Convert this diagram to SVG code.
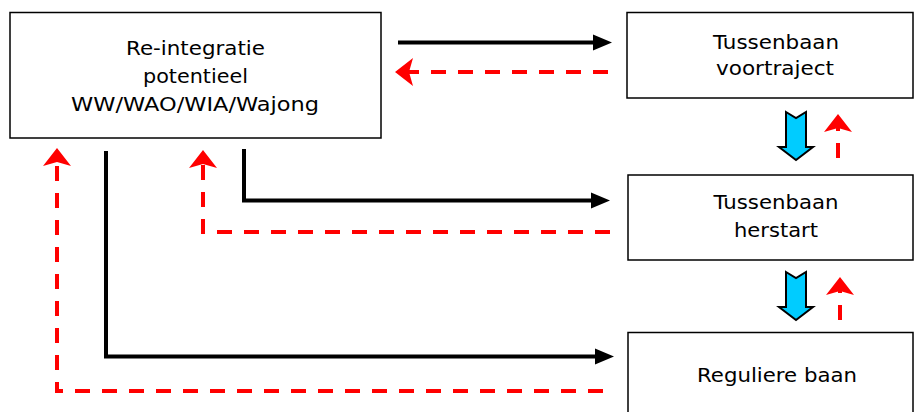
<svg xmlns="http://www.w3.org/2000/svg" width="915" height="412" viewBox="0 0 915 412">
<style>
.box{fill:#fff;stroke:#000;stroke-width:1.5}
.t{font-family:"DejaVu Sans",Verdana,sans-serif;font-size:19.5px;fill:#000;text-anchor:middle}
.blk{fill:none;stroke:#000;stroke-width:4;marker-end:url(#ab)}
.red{fill:none;stroke:#f00;stroke-width:4;stroke-dasharray:15 12;marker-end:url(#ar)}
.blue{fill:#00ccff;stroke:#000;stroke-width:2;stroke-linejoin:miter}
</style>
<defs>
<marker id="ab" markerUnits="userSpaceOnUse" markerWidth="22" markerHeight="20" viewBox="0 -10 22 20" refX="1" refY="0" orient="auto">
<path d="M0,-8 L19,0 L0,8 z" fill="#000"/>
</marker>
<marker id="ar" markerUnits="userSpaceOnUse" markerWidth="22" markerHeight="32" viewBox="0 -16 22 32" refX="4" refY="0" orient="auto">
<path d="M0,-14 L18,0 L0,14 L4,0 z" fill="#f00"/>
</marker>
</defs>
<g id="node-reintegratie">
<rect class="box" x="10" y="12.5" width="371" height="125.5"/>
<text class="t" x="195.5" y="55" textLength="139" lengthAdjust="spacingAndGlyphs">Re-integratie</text>
<text class="t" x="195.5" y="83" textLength="105" lengthAdjust="spacingAndGlyphs">potentieel</text>
<text class="t" x="195" y="111" textLength="248" lengthAdjust="spacingAndGlyphs">WW/WAO/WIA/Wajong</text>
</g>
<g id="node-voortraject">
<rect class="box" x="627" y="12.5" width="286" height="85.5"/>
<text class="t" x="776" y="49" textLength="126" lengthAdjust="spacingAndGlyphs">Tussenbaan</text>
<text class="t" x="775" y="75" textLength="118" lengthAdjust="spacingAndGlyphs">voortraject</text>
</g>
<g id="node-herstart">
<rect class="box" x="628" y="175" width="285" height="85"/>
<text class="t" x="776" y="209" textLength="125" lengthAdjust="spacingAndGlyphs">Tussenbaan</text>
<text class="t" x="776" y="237" textLength="84" lengthAdjust="spacingAndGlyphs">herstart</text>
</g>
<g id="node-regulier">
<rect class="box" x="628" y="332.5" width="285" height="90"/>
<text class="t" x="777" y="382" textLength="160" lengthAdjust="spacingAndGlyphs">Reguliere baan</text>
</g>
<g id="connectors">
<path class="blk" d="M398,42.5 L594,42.5"/>
<path class="red" d="M608,72 L409,72"/>
<path class="blk" d="M244,149 L244,200.5 L592,200.5"/>
<path class="red" d="M610,232 L203,232 L203,164"/>
<path class="blk" d="M106,151 L106,356.5 L596,356.5"/>
<path class="red" d="M603,391 L57,391 L57,162"/>
<path class="blue" d="M786,112 L796,118 L806,112 L806,147 L813,147 L796,160 L779,147 L786,147 z"/>
<path class="red" d="M838,158 L838,128"/>
<path class="blue" d="M786,272 L796,278 L806,272 L806,307 L813,307 L796,320 L779,307 L786,307 z"/>
<path class="red" d="M840,320 L840,291"/>
</g>
</svg>
